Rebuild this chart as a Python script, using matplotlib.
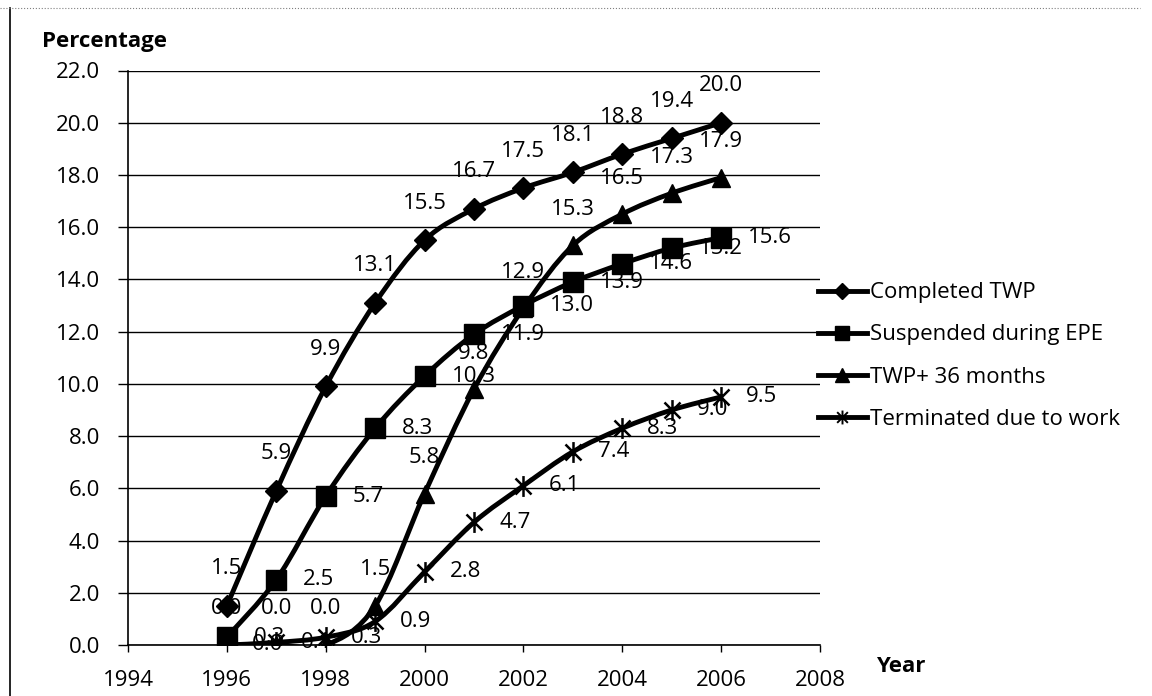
import numpy as np
import matplotlib
matplotlib.use("Agg")
import matplotlib.pyplot as plt
from matplotlib.path import Path
from matplotlib.patches import PathPatch
from matplotlib.lines import Line2D

plt.rcParams['font.family'] = ['Open Sans', 'DejaVu Sans']

### data ###
years = [1996, 1997, 1998, 1999, 2000, 2001, 2002, 2003, 2004, 2005, 2006]
completed_twp = [1.5, 5.9, 9.9, 13.1, 15.5, 16.7, 17.5, 18.1, 18.8, 19.4, 20.0]
suspended_epe = [0.3, 2.5, 5.7, 8.3, 10.3, 11.9, 13.0, 13.9, 14.6, 15.2, 15.6]
twp_36_months = [0.0, 0.0, 0.0, 1.5, 5.8, 9.8, 12.9, 15.3, 16.5, 17.3, 17.9]
terminated_work = [0.0, 0.1, 0.3, 0.9, 2.8, 4.7, 6.1, 7.4, 8.3, 9.0, 9.5]

series_names = ["Completed TWP", "Suspended during EPE",
                "TWP+ 36 months", "Terminated due to work"]

x_ticks = np.arange(1994, 2009, 2)
y_ticks = np.arange(0, 23, 2)


def smooth_path(x, y):
    """Bezier path through every point, like a spreadsheet 'smoothed line'."""
    pts = np.column_stack([x, y]).astype(float)
    n = len(pts)
    verts = [pts[0]]
    codes = [Path.MOVETO]
    for i in range(n - 1):
        p0 = pts[max(i - 1, 0)]
        p1 = pts[i]
        p2 = pts[i + 1]
        p3 = pts[min(i + 2, n - 1)]
        verts += [p1 + (p2 - p0) / 6, p2 - (p3 - p1) / 6, p2]
        codes += [Path.CURVE4] * 3
    return Path(verts, codes)


# X with a vertical bar through it
star = Path(
    [(-1, -1), (1, 1), (-1, 1), (1, -1), (0, -1.3), (0, 1.3)],
    [Path.MOVETO, Path.LINETO, Path.MOVETO, Path.LINETO, Path.MOVETO, Path.LINETO]
)

# marker, size, label offset (pixels), label alignment
styles = [
    dict(marker='D', ms=11, off=(0, 37), ha='center'),
    dict(marker='s', ms=14, off=(27, 0), ha='left'),
    dict(marker='^', ms=13, off=(0, 36), ha='center'),
    dict(marker=star, ms=15, off=(25, 0), ha='left'),
]
all_values = [completed_twp, suspended_epe, twp_36_months, terminated_work]

fig = plt.figure(figsize=(11.52, 6.96), dpi=100)
ax = fig.add_axes([128 / 1152, 1 - 645 / 696, 692 / 1152, 574.5 / 696])

for values, st in zip(all_values, styles):
    ax.add_patch(PathPatch(smooth_path(years, values), facecolor='none',
                           edgecolor='black', lw=3.5, zorder=3))
    if st['marker'] is star:
        ax.plot(years, values, linestyle='', marker=star, ms=st['ms'],
                markerfacecolor='none', markeredgecolor='black',
                markeredgewidth=1.8, zorder=4)
    else:
        ax.plot(years, values, linestyle='', marker=st['marker'], ms=st['ms'],
                color='black', zorder=4)
    for xv, yv in zip(years, values):
        ax.annotate(f"{yv:.1f}", (xv, yv), xytext=st['off'],
                    textcoords='offset pixels', ha=st['ha'], va='center',
                    fontsize=16, zorder=2)

ax.set_xlim(1994, 2008)
ax.set_ylim(0, 22)
ax.set_xticks(x_ticks)
ax.set_xticklabels([str(v) for v in x_ticks])
ax.set_yticks(y_ticks)
ax.set_yticklabels([f"{v:.1f}" for v in y_ticks])
ax.tick_params(axis='both', labelsize=16, direction='out', width=1, color='black')
ax.tick_params(axis='y', length=7, pad=13)
ax.tick_params(axis='x', length=5, pad=13)
ax.yaxis.grid(True, color='black', lw=1)
ax.set_axisbelow(True)
for side in ['top', 'right']:
    ax.spines[side].set_visible(False)
ax.spines['left'].set_linewidth(1.2)
ax.spines['bottom'].set_linewidth(1.2)

fig.text(104 / 1152, 1 - 42 / 696, "Percentage", fontsize=16, fontweight='bold',
         ha='center', va='center')
fig.text(901 / 1152, 1 - 667 / 696, "Year", fontsize=16, fontweight='bold',
         ha='center', va='center')

handles = []
for name, st in zip(series_names, styles):
    if st['marker'] is star:
        h = Line2D([], [], color='black', lw=3.5, marker=star, ms=10,
                   markerfacecolor='none', markeredgewidth=1.4, label=name)
    else:
        h = Line2D([], [], color='black', lw=3.5, marker=st['marker'],
                   ms=st['ms'] * 0.75, label=name)
    handles.append(h)
fig.legend(handles=handles, loc='center left',
           bbox_to_anchor=(818 / 1152, 1 - 356 / 696),
           frameon=False, fontsize=16, handlelength=2.2, handletextpad=0.15,
           labelspacing=0.95, borderpad=0, borderaxespad=0)

# outer chart frame
fig.add_artist(Line2D([10 / 1152, 10 / 1152], [0, 1 - 8 / 696],
                      color='black', lw=1.2))
fig.add_artist(Line2D([0, 1140 / 1152], [1 - 8 / 696, 1 - 8 / 696],
                      color='gray', lw=0.8, linestyle=':'))

fig.savefig("out.png", dpi=100)
